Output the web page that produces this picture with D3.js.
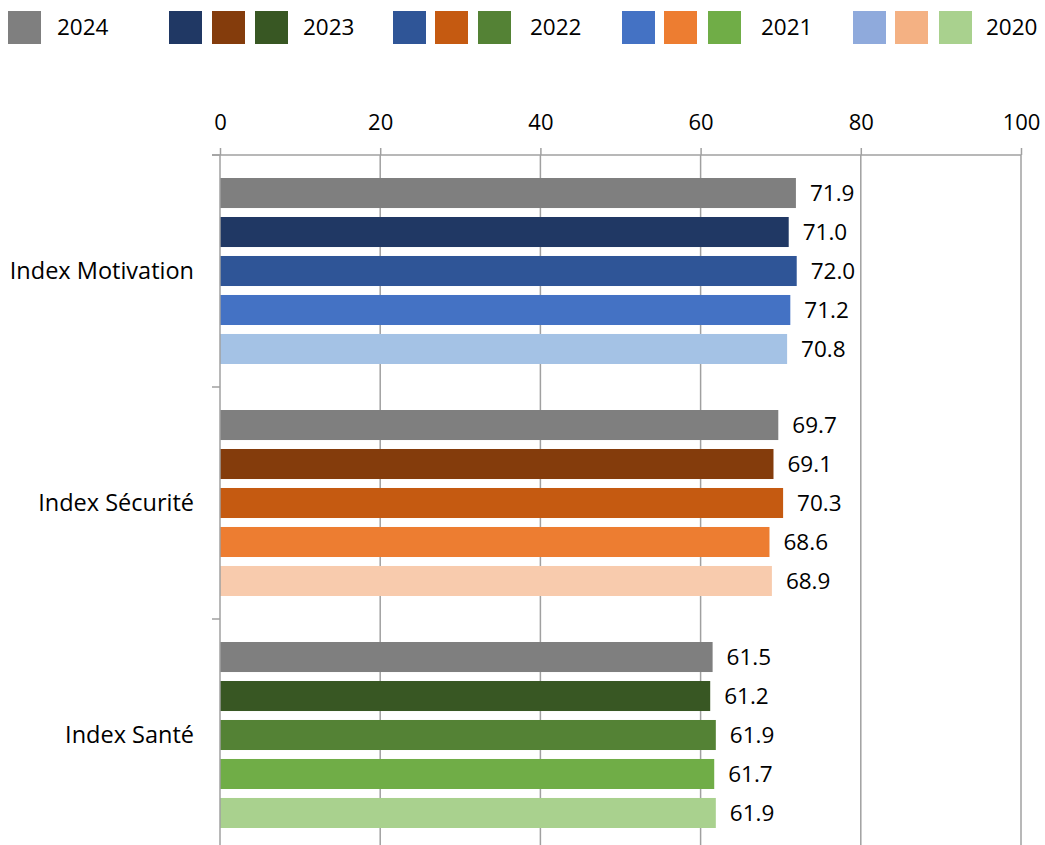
<!DOCTYPE html>
<html>
<head>
<meta charset="utf-8">
<script src="https://cdn.jsdelivr.net/npm/d3@7"></script>
<style>
  html, body { margin: 0; padding: 0; background: #fff; }
  svg { display: block; font-family: "Open Sans", Lato, sans-serif; }
</style>
</head>
<body>
<svg id="chart" width="1045" height="845"></svg>
<script>
// Index categories, top to bottom
const categories = ["Index Motivation", "Index Sécurité", "Index Santé"];
// Survey years, drawn top to bottom inside each group
const years = ["2024", "2023", "2022", "2021", "2020"];

// Scores per year, one entry per category
const values2024 = [71.9, 69.7, 61.5];
const values2023 = [71.0, 69.1, 61.2];
const values2022 = [72.0, 70.3, 61.9];
const values2021 = [71.2, 68.6, 61.7];
const values2020 = [70.8, 68.9, 61.9];

// Bar fill per year, one entry per category
const colors2024 = ["#7f7f7f", "#7f7f7f", "#7f7f7f"];
const colors2023 = ["#203864", "#843c0c", "#385723"];
const colors2022 = ["#2f5597", "#c55a11", "#548235"];
const colors2021 = ["#4472c4", "#ed7d31", "#70ad47"];
const colors2020 = ["#a4c2e5", "#f8cbad", "#a9d18e"];

// Legend swatches per year
const legendSwatches2024 = ["#7f7f7f"];
const legendSwatches2023 = ["#203864", "#843c0c", "#385723"];
const legendSwatches2022 = ["#2f5597", "#c55a11", "#548235"];
const legendSwatches2021 = ["#4472c4", "#ed7d31", "#70ad47"];
const legendSwatches2020 = ["#8faadc", "#f4b183", "#a9d18e"];

const xTicks = [0, 20, 40, 60, 80, 100];

const seriesValues = [values2024, values2023, values2022, values2021, values2020];
const seriesColors = [colors2024, colors2023, colors2022, colors2021, colors2020];
const legendSwatches = [legendSwatches2024, legendSwatches2023, legendSwatches2022, legendSwatches2021, legendSwatches2020];

const svg = d3.select("#chart");
const gridColor = "#a0a0a0";
const labelSize = 22.5;
const categorySize = 23.5;
const tickSize = 22;

const plot = { left: 220, right: 1021, top: 155, bottom: 851 };

const x = d3.scaleLinear().domain([0, 100]).range([plot.left, plot.right]);
const y = d3.scaleBand().domain(categories).range([plot.top, plot.bottom]).padding(0);
const yInner = d3.scaleBand().domain(years).range([0, y.bandwidth()])
  .paddingInner(0.23).paddingOuter(0.59);

// Vertical gridlines
svg.append("g").selectAll("line").data(xTicks.slice(1)).join("line")
  .attr("x1", d => x(d)).attr("x2", d => x(d))
  .attr("y1", plot.top).attr("y2", plot.bottom)
  .attr("stroke", gridColor).attr("stroke-width", 1.5);

// Top value axis
const xAxis = svg.append("g").attr("transform", `translate(0,${plot.top})`)
  .call(d3.axisTop(x).tickValues(xTicks).tickSize(7).tickPadding(18).tickFormat(d3.format("d")));
xAxis.select(".domain").remove();
xAxis.selectAll(".tick line").attr("stroke", gridColor).attr("stroke-width", 1.5);
xAxis.selectAll(".tick text").attr("font-size", tickSize).attr("fill", "#000")
  .attr("font-family", "'Open Sans', Lato, sans-serif");
xAxis.append("line")
  .attr("x1", plot.left - 8).attr("x2", plot.right)
  .attr("y1", 0).attr("y2", 0)
  .attr("stroke", gridColor).attr("stroke-width", 1.5);

// Bars and value labels
const rows = [];
categories.forEach((c, ci) => {
  years.forEach((yr, si) => {
    rows.push({ cat: c, year: yr, value: seriesValues[si][ci], color: seriesColors[si][ci] });
  });
});

const bars = svg.append("g");
bars.selectAll("rect").data(rows).join("rect")
  .attr("x", x(0))
  .attr("y", d => y(d.cat) + yInner(d.year))
  .attr("width", d => x(d.value) - x(0))
  .attr("height", yInner.bandwidth())
  .attr("fill", d => d.color);

bars.selectAll("text").data(rows).join("text")
  .attr("x", d => x(d.value) + 14)
  .attr("y", d => y(d.cat) + yInner(d.year) + yInner.bandwidth() / 2)
  .attr("dy", "0.36em")
  .attr("font-size", labelSize)
  .attr("fill", "#000")
  .text(d => d3.format(".1f")(d.value));

// Left category axis
const catBoundaries = [plot.top].concat(categories.map(c => y(c) + y.bandwidth()));
svg.append("line")
  .attr("x1", plot.left).attr("x2", plot.left)
  .attr("y1", plot.top).attr("y2", plot.bottom)
  .attr("stroke", gridColor).attr("stroke-width", 1.5);
svg.append("g").selectAll("line").data(catBoundaries).join("line")
  .attr("x1", plot.left - 8).attr("x2", plot.left)
  .attr("y1", d => d).attr("y2", d => d)
  .attr("stroke", gridColor).attr("stroke-width", 1.5);
svg.append("g").selectAll("text").data(categories).join("text")
  .attr("x", 194)
  .attr("y", d => y(d) + y.bandwidth() / 2)
  .attr("dy", "0.36em")
  .attr("text-anchor", "end")
  .attr("font-size", categorySize)
  .attr("fill", "#000")
  .text(d => d);

// Legend: swatches followed by the year label
const legendLayout = [
  { swatchX: [8], textX: 57 },
  { swatchX: [169, 212, 255], textX: 303 },
  { swatchX: [393, 435, 478], textX: 530 },
  { swatchX: [622, 664, 708], textX: 761 },
  { swatchX: [853, 895, 939], textX: 986 }
];
const legend = svg.append("g");
years.forEach((yr, i) => {
  const g = legend.append("g");
  g.selectAll("rect").data(legendSwatches[i]).join("rect")
    .attr("x", (d, k) => legendLayout[i].swatchX[k])
    .attr("y", 11).attr("width", 33).attr("height", 33)
    .attr("fill", d => d);
  g.append("text")
    .attr("x", legendLayout[i].textX).attr("y", 27)
    .attr("dy", "0.36em")
    .attr("font-size", labelSize).attr("fill", "#000")
    .text(yr);
});
</script>
</body>
</html>
